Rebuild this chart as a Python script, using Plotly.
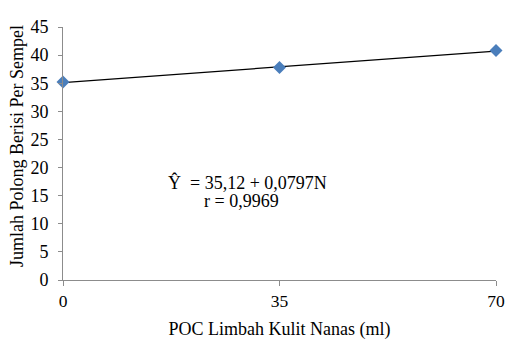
import plotly.graph_objects as go

# Data
poc_ml = [0, 35, 70]
polong = [35.2, 37.8, 40.8]
trend_x = [0, 70]
trend_y = [35.12, 40.70]
x_ticks = [0, 35, 70]
y_ticks = [0, 5, 10, 15, 20, 25, 30, 35, 40, 45]
eq_text = "Ŷ  = 35,12 + 0,0797N"
r_text = "r = 0,9969"
y_title = "Jumlah Polong Berisi Per Sempel"
x_title = "POC Limbah Kulit Nanas (ml)"

font_family = "Liberation Serif, Times New Roman, serif"
axis_color = "#8c8c8c"

fig = go.Figure()
fig.add_trace(go.Scatter(
    x=trend_x, y=trend_y, mode="lines",
    line=dict(color="black", width=1.2),
    showlegend=False, cliponaxis=False, hoverinfo="skip"))
fig.add_trace(go.Scatter(
    x=poc_ml, y=polong, mode="markers",
    marker=dict(symbol="diamond", size=10, color="#4a7ebb"),
    showlegend=False, cliponaxis=False))

fig.add_annotation(x=29.8, y=17.4, text=eq_text, showarrow=False,
                   font=dict(family=font_family, size=18, color="black"))
fig.add_annotation(x=28.9, y=14.0, text=r_text, showarrow=False,
                   font=dict(family=font_family, size=18, color="black"))

# y-axis title as rotated annotation (positioned like the reference)
fig.add_annotation(xref="paper", yref="paper", x=-0.106, y=0.53,
                   text=y_title, textangle=-90, showarrow=False,
                   xanchor="center", yanchor="middle",
                   font=dict(family=font_family, size=18, color="black"))

fig.update_layout(
    width=506, height=337,
    margin=dict(l=55, r=9, t=10, b=61),
    paper_bgcolor="white", plot_bgcolor="white",
    font=dict(family=font_family, color="black"),
    xaxis=dict(
        range=[0, 70], tickvals=x_ticks, ticktext=[str(v) for v in x_ticks],
        showgrid=False, zeroline=False, showline=True, linecolor=axis_color,
        linewidth=1, ticks="outside", ticklen=5, tickcolor=axis_color,
        tickfont=dict(family=font_family, size=17.5),
        title=dict(text=x_title, standoff=12,
                   font=dict(family=font_family, size=18)),
    ),
    yaxis=dict(
        range=[0, 45], tickvals=y_ticks,
        showgrid=False, zeroline=False, showline=True, linecolor=axis_color,
        linewidth=1, ticks="outside", ticklen=4, tickcolor=axis_color,
        ticklabelstandoff=6,
        tickfont=dict(family=font_family, size=18),
    ),
)

fig.write_html("out.html", config={"displayModeBar": False})
